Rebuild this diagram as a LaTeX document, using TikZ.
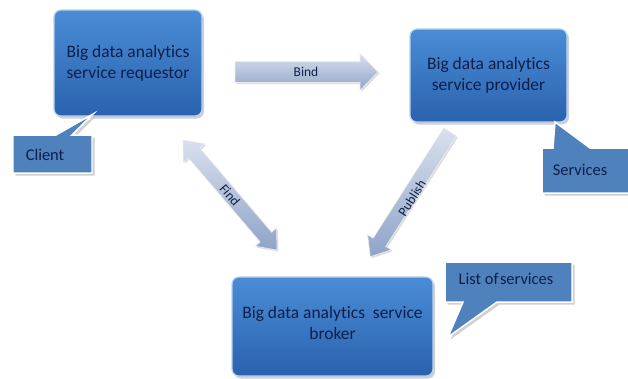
\documentclass[tikz,border=0pt]{standalone}
\usepackage{fontspec}
\setmainfont{Carlito}[Ligatures=NoCommon]
\usetikzlibrary{shadows,calc}
\definecolor{boxtop}{HTML}{4A8CD6}
\definecolor{boxbot}{HTML}{2A62AE}
\definecolor{navy}{HTML}{0E1F48}
\definecolor{calfill}{HTML}{4F81BD}
\definecolor{arrlight}{HTML}{D8E0EE}
\definecolor{arrdark}{HTML}{8FA4C8}
\begin{document}
\begin{tikzpicture}[x=1bp,y=-1bp,
  bigbox/.style={rectangle, rounded corners=7bp, draw=boxtop!40!white, line width=1.2pt,
    top color=boxtop, bottom color=boxbot, text=navy, align=center,
    font=\fontsize{17.5}{21}\selectfont,
    drop shadow={shadow xshift=2bp, shadow yshift=-2.5bp, fill=black!30, opacity=.6}},
  callout/.style={fill=calfill, draw=white, line width=1.5pt, line join=miter,
    drop shadow={shadow xshift=2.5bp, shadow yshift=-2.5bp, fill=black!30, opacity=.6}},
  caltext/.style={text=navy, font=\fontsize{16.5}{18}\selectfont},
  fatarrow/.style={top color=arrlight, bottom color=arrdark, draw=white!85!gray, line width=0.6pt,
    drop shadow={shadow xshift=1.5bp, shadow yshift=-1.5bp, fill=black!25, opacity=.5}},
  arrtext/.style={text=navy, font=\fontsize{13.5}{15}\selectfont}]
\useasboundingbox (0,0) rectangle (628,378);
\fill[white] (0,0) rectangle (628,378);

% main boxes
\node[bigbox, minimum width=148bp, minimum height=106bp] (req) at (128,63)
  {Big data analytics\\service requestor};
\node[bigbox, minimum width=157bp, minimum height=93bp] (prov) at (488.5,75.5)
  {Big data analytics\\service provider};
\node[bigbox, minimum width=201bp, minimum height=99bp, text depth=8bp] (brok) at (332.5,326.5)
  {Big data analytics\ \ service\\broker};

% callouts
\path[callout] (13,135) -- (56,135) -- (93,114) -- (72,135) -- (92,135) -- (92,173) -- (13,173) -- cycle;
\node[caltext] (client) at (45,155) {Client};

\path[callout] (542,148) -- (553,148) -- (555,122) -- (590,148) -- (640,148) -- (640,193) -- (542,193) -- cycle;
\node[caltext] (serv) at (580,170) {Services};

\path[callout] (445,262) -- (572,262) -- (572,302) -- (497,302) -- (448,337) -- (463,302) -- (445,302) -- cycle;
\node[caltext] (list) at (506,279) {List of\hspace{1.5pt}services};

% Bind arrow
\begin{scope}[shift={(235,72)}]
  \path[fatarrow] (0,-10.5) -- (125,-10.5) -- (125,-18.5) -- (143,0) -- (125,18.5) -- (125,10.5) -- (0,10.5) -- cycle;
\end{scope}
\node[arrtext] (bind) at (306,72) {Bind};

% Find double arrow
\begin{scope}[shift={(183,140)}, rotate=-49.5]
  \path[fatarrow] (0,0) -- (17,-14) -- (17,-7.5) -- (127.7,-7.5) -- (127.7,-14) -- (144.7,0)
     -- (127.7,14) -- (127.7,7.5) -- (17,7.5) -- (17,14) -- cycle;
\end{scope}
\node[arrtext, rotate=-49.5] (find) at (230,195) {Find};

% Publish arrow
\begin{scope}[shift={(450,132)}, rotate=-122.6]
  \path[fatarrow] (0,-7.5) -- (131,-7.5) -- (131,-14) -- (148,0) -- (131,14) -- (131,7.5) -- (0,7.5) -- cycle;
\end{scope}
\node[arrtext, rotate=57.4] (pub) at (412,198) {Publish};
\end{tikzpicture}
\end{document}
